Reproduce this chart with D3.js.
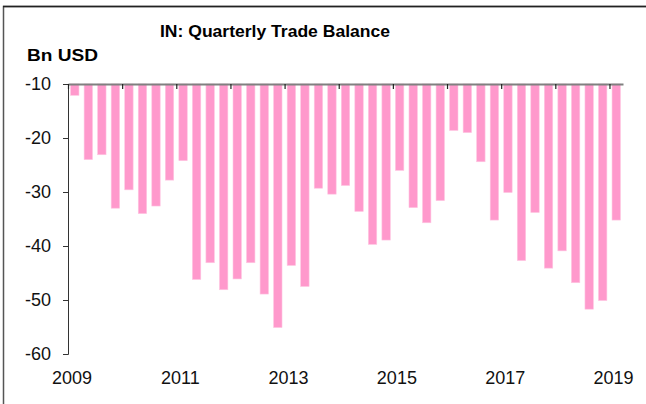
<!DOCTYPE html>
<html>
<head>
<meta charset="utf-8">
<script src="https://cdn.jsdelivr.net/npm/d3@7/dist/d3.min.js"></script>
<style>
  body { margin: 0; background: #fff; }
  svg { display: block; font-family: Arial, "Liberation Sans", sans-serif; }
</style>
</head>
<body>
<script>
// quarterly trade balance, bn USD, 2009Q1 .. 2019Q1
var quarters = []
for (var yr = 2009; yr <= 2019; yr++)
    for (var q = 1; q <= 4; q++)
        if (yr < 2019 || q == 1) quarters.push(yr + 'Q' + q)

var balance = [
    -12.1, -24.0, -23.1, -33.0,
    -29.6, -34.0, -32.6, -27.8,
    -24.2, -46.2, -43.1, -48.1,
    -46.1, -43.1, -48.9, -55.1,
    -43.6, -47.5, -29.3, -30.4,
    -28.8, -33.6, -39.7, -38.9,
    -26.0, -32.9, -35.7, -31.6,
    -18.6, -19.0, -24.4, -35.2,
    -30.1, -42.7, -33.8, -44.1,
    -40.9, -46.8, -51.7, -50.1,
    -35.2
]
var yearTicks = [2009, 2010, 2011, 2012, 2013, 2014, 2015, 2016, 2017, 2018, 2019]
var yearLabels = [2009, 2011, 2013, 2015, 2017, 2019]
var yTicks = [-10, -20, -30, -40, -50, -60]

var width = 646, height = 404
var plotLeft = 68, plotRight = 623, plotTop = 84, plotBottom = 354

var svg = d3.select('body').append('svg').attr('width', width).attr('height', height)

// outer frame (runs off the right and bottom edge)
svg.append('rect')
    .attr('x', 3.5).attr('y', 6.5).attr('width', 700).attr('height', 500)
    .attr('fill', 'none').attr('stroke', '#555').attr('stroke-width', 1.5)
svg.append('line')
    .attr('x1', 3).attr('x2', width).attr('y1', 6.5).attr('y2', 6.5)
    .attr('stroke', '#222').attr('stroke-width', 1.5)

svg.append('text')
    .attr('x', 275).attr('y', 37)
    .attr('text-anchor', 'middle')
    .style('font-size', '17px').style('font-weight', 'bold')
    .attr('textLength', 230).attr('lengthAdjust', 'spacingAndGlyphs')
    .text('IN: Quarterly Trade Balance')

svg.append('text')
    .attr('x', 27).attr('y', 61)
    .style('font-size', '16px').style('font-weight', 'bold')
    .attr('textLength', 71).attr('lengthAdjust', 'spacingAndGlyphs')
    .text('Bn USD')

var x = d3.scaleBand().domain(quarters).range([plotLeft, plotRight])
    .paddingInner(0.38).paddingOuter(0.19)
var xYear = d3.scaleLinear().domain([2009, 2019.25]).range([plotLeft, plotRight])
var y = d3.scaleLinear().domain([-60, -10]).range([plotBottom, plotTop])

// bars hang down from the -10 line
svg.append('g').selectAll('rect').data(balance).enter().append('rect')
    .attr('x', function (d, i) { return x(quarters[i]) })
    .attr('width', x.bandwidth())
    .attr('y', y(-10))
    .attr('height', function (d) { return y(d) - y(-10) })
    .attr('fill', '#ff99cc')
    .attr('stroke', '#ffc6e2').attr('stroke-width', 0.6)

// plain hyphen minus like the original, not d3's unicode minus
var plain = function (d) { return String(d) }

var yAxis = svg.append('g').attr('transform', 'translate(' + plotLeft + ',0)')
    .call(d3.axisLeft(y).tickValues(yTicks).tickSize(5).tickPadding(12).tickFormat(plain))
yAxis.select('.domain').attr('stroke', '#333')
yAxis.selectAll('.tick line').attr('stroke', '#333')
yAxis.selectAll('text').style('font-size', '18px').attr('fill', '#111')

var xAxis = svg.append('g').attr('transform', 'translate(0,' + plotTop + ')')
    .call(d3.axisBottom(xYear).tickValues(yearTicks).tickSize(5).tickSizeOuter(0).tickFormat(''))
xAxis.select('.domain').attr('stroke', '#808080').attr('stroke-width', 2)
xAxis.selectAll('.tick line').attr('stroke', '#222').attr('stroke-width', 1.2)

var xLabels = svg.append('g').attr('transform', 'translate(3.5,' + (plotBottom + 14) + ')')
    .call(d3.axisBottom(xYear).tickValues(yearLabels).tickSize(0).tickFormat(plain))
xLabels.select('.domain').remove()
xLabels.selectAll('text').style('font-size', '18px').attr('fill', '#111')
</script>
</body>
</html>
